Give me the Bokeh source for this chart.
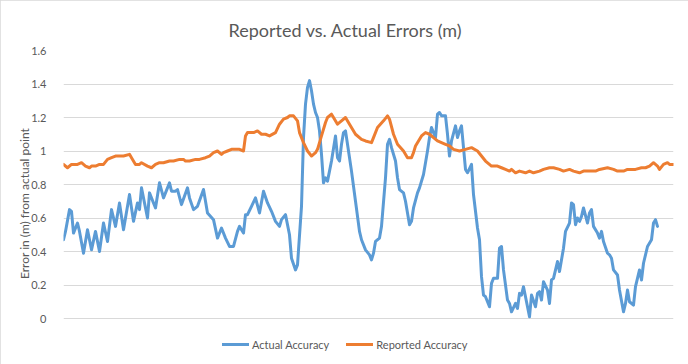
from bokeh.plotting import figure
from bokeh.models import Range1d, Legend, LegendItem, FixedTicker
from bokeh.embed import file_html
from bokeh.resources import INLINE

# ---- data (sample index, error in metres) ----
actual_x = [0, 1, 3, 4, 5, 7, 8, 10, 12, 14, 16, 18, 20, 22, 24, 26, 28, 30, 33, 35,
            37, 38, 39, 42, 43, 46, 48, 50, 53, 54, 56, 57, 59, 62, 63, 65, 67, 70, 72, 75,
            77, 79, 81, 83, 85, 87, 88, 90, 91, 92, 94, 96, 98, 100, 102, 104, 106, 108, 109, 111,
            113, 114, 116, 117, 119, 120, 121, 122, 123, 124, 125, 126, 127, 128, 129, 130, 131, 132, 133, 134,
            136, 137, 138, 139, 140, 141, 142, 144, 146, 148, 149, 151, 153, 154, 155, 156, 158, 159, 161, 162,
            163, 164, 166, 167, 168, 170, 171, 173, 174, 175, 177, 178, 180, 182, 183, 184, 186, 187, 188, 189,
            191, 192, 193, 194, 196, 197, 198, 199, 201, 202, 204, 205, 207, 208, 209, 210, 211, 213, 214, 215,
            217, 218, 219, 220, 222, 223, 224, 226, 227, 228, 229, 230, 232, 233, 234, 236, 237, 238, 239, 240,
            242, 243, 244, 245, 247, 248, 250, 251, 253, 254, 255, 256, 257, 258, 259, 260, 262, 263, 264, 265,
            267, 268, 269, 270, 272, 273, 274, 275, 277, 278, 280, 281, 282, 283, 285, 286, 288, 289, 290, 292,
            294, 295, 296, 297]
actual_y = [0.47, 0.52, 0.65, 0.64, 0.51, 0.57, 0.52, 0.39, 0.53, 0.41, 0.52, 0.40, 0.57, 0.46, 0.65, 0.55, 0.69, 0.53, 0.74, 0.58,
            0.69, 0.65, 0.78, 0.60, 0.75, 0.66, 0.81, 0.72, 0.81, 0.76, 0.76, 0.77, 0.68, 0.78, 0.72, 0.65, 0.67, 0.77, 0.63, 0.59,
            0.48, 0.54, 0.48, 0.43, 0.43, 0.52, 0.55, 0.51, 0.62, 0.62, 0.67, 0.72, 0.63, 0.76, 0.69, 0.64, 0.58, 0.55, 0.59, 0.62,
            0.50, 0.36, 0.29, 0.32, 0.67, 1.08, 1.28, 1.38, 1.42, 1.36, 1.28, 1.23, 1.20, 1.12, 0.98, 0.81, 0.84, 0.82, 0.88, 0.94,
            1.09, 0.96, 0.94, 1.04, 1.11, 1.12, 1.04, 0.88, 0.70, 0.52, 0.47, 0.41, 0.38, 0.35, 0.39, 0.46, 0.48, 0.55, 0.84, 1.04,
            1.07, 1.02, 0.94, 0.84, 0.77, 0.75, 0.70, 0.56, 0.58, 0.66, 0.75, 0.78, 0.86, 1.00, 1.08, 1.14, 1.08, 1.22, 1.23, 1.21,
            1.21, 1.10, 0.97, 1.06, 1.15, 1.08, 1.12, 1.15, 0.89, 0.87, 0.92, 0.74, 0.54, 0.47, 0.25, 0.14, 0.13, 0.07, 0.21, 0.24,
            0.24, 0.42, 0.43, 0.29, 0.11, 0.09, 0.04, 0.09, 0.06, 0.15, 0.14, 0.19, 0.07, 0.01, 0.14, 0.07, 0.15, 0.16, 0.11, 0.22,
            0.17, 0.09, 0.23, 0.24, 0.34, 0.28, 0.42, 0.52, 0.57, 0.69, 0.68, 0.56, 0.60, 0.58, 0.61, 0.66, 0.57, 0.63, 0.65, 0.55,
            0.51, 0.48, 0.52, 0.46, 0.39, 0.38, 0.36, 0.29, 0.26, 0.17, 0.04, 0.09, 0.17, 0.10, 0.08, 0.19, 0.29, 0.23, 0.33, 0.43,
            0.47, 0.57, 0.59, 0.55]

reported_x = [0, 2, 4, 7, 9, 11, 13, 14, 16, 18, 20, 22, 24, 26, 28, 30, 33, 34, 36, 38,
              39, 42, 44, 46, 48, 50, 53, 55, 58, 60, 61, 63, 66, 68, 71, 73, 75, 77, 79, 80,
              82, 84, 88, 90, 91, 92, 95, 97, 99, 101, 103, 106, 108, 110, 112, 113, 115, 117, 118, 120,
              122, 124, 126, 127, 129, 131, 132, 134, 135, 137, 139, 141, 143, 146, 149, 151, 154, 155, 157, 160,
              162, 163, 165, 167, 170, 172, 174, 175, 176, 179, 181, 183, 185, 187, 189, 191, 193, 195, 198, 201,
              204, 207, 209, 211, 214, 217, 219, 221, 223, 224, 226, 228, 231, 233, 235, 238, 240, 243, 245, 248,
              250, 253, 255, 258, 260, 263, 266, 268, 272, 275, 277, 280, 282, 286, 289, 291, 293, 295, 297, 298,
              300, 302, 303, 305]
reported_y = [0.92, 0.90, 0.92, 0.92, 0.93, 0.91, 0.90, 0.91, 0.91, 0.92, 0.92, 0.95, 0.96, 0.97, 0.97, 0.97, 0.98, 0.96, 0.92, 0.92,
              0.93, 0.91, 0.90, 0.92, 0.93, 0.93, 0.94, 0.94, 0.95, 0.95, 0.94, 0.94, 0.95, 0.95, 0.96, 0.97, 0.99, 1.00, 0.98, 0.99,
              1.00, 1.01, 1.01, 1.00, 1.09, 1.11, 1.11, 1.12, 1.10, 1.10, 1.09, 1.11, 1.16, 1.19, 1.20, 1.21, 1.21, 1.18, 1.11, 1.05,
              1.00, 0.97, 0.99, 1.01, 1.09, 1.17, 1.20, 1.22, 1.20, 1.16, 1.18, 1.20, 1.16, 1.10, 1.07, 1.06, 1.05, 1.08, 1.14, 1.18,
              1.21, 1.19, 1.10, 1.04, 1.00, 0.96, 0.96, 0.99, 1.03, 1.09, 1.11, 1.10, 1.08, 1.06, 1.05, 1.04, 1.03, 1.01, 1.00, 1.01,
              1.02, 1.00, 0.97, 0.94, 0.91, 0.91, 0.90, 0.89, 0.88, 0.89, 0.87, 0.88, 0.87, 0.88, 0.87, 0.88, 0.89, 0.90, 0.90, 0.89,
              0.88, 0.89, 0.88, 0.87, 0.88, 0.88, 0.88, 0.89, 0.90, 0.89, 0.88, 0.88, 0.89, 0.89, 0.90, 0.90, 0.91, 0.93, 0.91, 0.89,
              0.92, 0.93, 0.92, 0.92]

y_ticks = [0, 0.2, 0.4, 0.6, 0.8, 1, 1.2, 1.4, 1.6]
y_tick_labels = ["0", "0.2", "0.4", "0.6", "0.8", "1", "1.2", "1.4", "1.6"]

TEXT = "#595959"
FONT = "Lato"

# layout (pixels): plot area spans y=50 (value 1.6) to y=318 (value 0);
# the frame is extended down to y=356 so the legend can sit inside it
W, H = 688, 364
TOP, ZERO_Y, BOTTOM_PAD = 50, 318, 8
px_per_unit = (ZERO_Y - TOP) / 1.6
y_min = -((H - BOTTOM_PAD) - ZERO_Y) / px_per_unit

p = figure(width=W, height=H, output_backend="svg", toolbar_location=None,
           x_range=Range1d(0, 305), y_range=Range1d(y_min, 1.6),
           min_border_left=63, min_border_right=15, min_border_top=TOP, min_border_bottom=BOTTOM_PAD)
p.outline_line_color = None
p.styles = {"outline": "1px solid #D9D9D9", "outline-offset": "-1px"}

p.title.text = "Reported vs. Actual Errors  (m)"
p.title.align = "left"
p.title.offset = 165
p.title.standoff = 20
p.title.text_font = FONT
p.title.text_font_size = "18px"
p.title.text_font_style = "normal"
p.title.text_color = TEXT

p.xaxis.visible = False
p.xgrid.visible = False
p.ygrid.grid_line_color = "#D9D9D9"
p.ygrid.grid_line_width = 1
p.yaxis.ticker = FixedTicker(ticks=y_ticks)
p.yaxis.major_label_overrides = {t: s for t, s in zip(y_ticks, y_tick_labels)}
p.yaxis.axis_line_color = None
p.yaxis.major_tick_line_color = None
p.yaxis.minor_tick_line_color = None
p.yaxis.major_label_standoff = 11
p.yaxis.major_label_text_font = FONT
p.yaxis.major_label_text_font_size = "11px"
p.yaxis.major_label_text_color = TEXT
p.yaxis.axis_label = "Error in (m) from actual point"
p.yaxis.axis_label_text_font = FONT
p.yaxis.axis_label_text_font_size = "12px"
p.yaxis.axis_label_text_font_style = "normal"
p.yaxis.axis_label_text_color = TEXT
p.yaxis.axis_label_standoff = -4

r1 = p.line(actual_x, actual_y, line_color="#5B9BD5", line_width=3, line_join="round", line_cap="round")
r2 = p.line(reported_x, reported_y, line_color="#ED7D31", line_width=3, line_join="round", line_cap="round")

legend = Legend(items=[LegendItem(label="Actual Accuracy", renderers=[r1]),
                       LegendItem(label="Reported Accuracy", renderers=[r2])],
                location=(159, 4), orientation="horizontal",
                padding=0, margin=0, spacing=17, label_standoff=3,
                glyph_width=27, glyph_height=16, label_height=16,
                label_text_font=FONT, label_text_font_size="11px", label_text_color=TEXT,
                border_line_color=None, background_fill_alpha=0)
p.add_layout(legend, "center")

open("out.html", "w").write(file_html(p, INLINE))
